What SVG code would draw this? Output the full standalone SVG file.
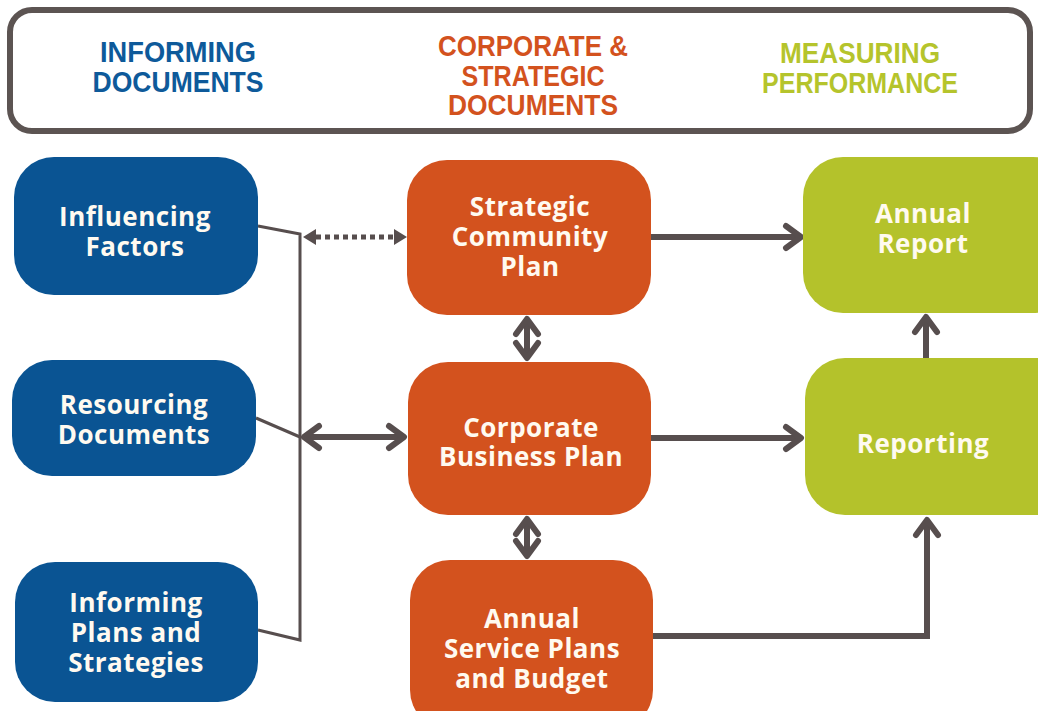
<svg xmlns="http://www.w3.org/2000/svg" width="1038" height="711" viewBox="0 0 1038 711">
  <style>
    .hdr { font-family: "Liberation Sans", Arial, sans-serif; font-weight: bold; font-size: 29px; text-anchor: middle; }
    .lbl { font-family: "Open Sans", "Noto Sans", sans-serif; font-weight: bold; font-size: 26px; letter-spacing: 0.5px; text-anchor: middle; fill: #fffaf0; }
    .blue { fill: #0a5493; }
    .orange { fill: #d3521e; }
    .green { fill: #b4c22b; }
    .wire { fill: none; stroke: #574e4e; stroke-width: 3; stroke-linejoin: miter; }
    .arrow { fill: none; stroke: #574e4e; stroke-width: 6; }
    .dotted { fill: none; stroke: #574e4e; stroke-width: 5; stroke-dasharray: 5 4; }
  </style>
  <defs>
    <marker id="chev" viewBox="-22 -16 28 32" refX="0" refY="0" markerWidth="28" markerHeight="32" markerUnits="userSpaceOnUse" orient="auto-start-reverse">
      <path d="M-15,-11 L0,0 L-15,11" fill="none" stroke="#574e4e" stroke-width="6" stroke-linecap="round" stroke-linejoin="round"/>
    </marker>
    <marker id="tri" viewBox="-2 -10 18 20" refX="0" refY="0" markerWidth="18" markerHeight="20" markerUnits="userSpaceOnUse" orient="auto-start-reverse">
      <path d="M0,-8 L13,0 L0,8 Z" fill="#574e4e"/>
    </marker>
  </defs>

  <rect width="1038" height="711" fill="#ffffff"/>

  <!-- header band -->
  <g id="header">
    <rect x="10" y="10" width="1020" height="121" rx="22" fill="#ffffff" stroke="#5c5452" stroke-width="6"/>
    <text class="hdr" fill="#0e5a9a"><tspan x="178" y="62" textLength="156" lengthAdjust="spacingAndGlyphs">INFORMING</tspan><tspan x="178" y="92" textLength="171" lengthAdjust="spacingAndGlyphs">DOCUMENTS</tspan></text>
    <text class="hdr" fill="#d3521e"><tspan x="533" y="56" textLength="190" lengthAdjust="spacingAndGlyphs">CORPORATE &amp;</tspan><tspan x="533" y="86" textLength="143" lengthAdjust="spacingAndGlyphs">STRATEGIC</tspan><tspan x="533" y="115" textLength="170" lengthAdjust="spacingAndGlyphs">DOCUMENTS</tspan></text>
    <text class="hdr" fill="#b5c42c"><tspan x="860" y="63" textLength="160" lengthAdjust="spacingAndGlyphs">MEASURING</tspan><tspan x="860" y="93" textLength="196" lengthAdjust="spacingAndGlyphs">PERFORMANCE</tspan></text>
  </g>

  <!-- connectors -->
  <g id="connectors">
    <!-- bracket gathering the informing documents -->
    <path class="wire" d="M258,226 L300,234 L300,640 L258,630"/>
    <path class="wire" d="M256,418 L300,437"/>
    <!-- dotted link to the strategic plan -->
    <path class="dotted" d="M316,237 L394,237" marker-start="url(#tri)" marker-end="url(#tri)"/>
    <!-- two-way link to the business plan -->
    <path class="arrow" d="M304,437 L404,437" marker-start="url(#chev)" marker-end="url(#chev)"/>
    <!-- vertical two-way links in the middle column -->
    <path class="arrow" d="M527,319 L527,358" marker-start="url(#chev)" marker-end="url(#chev)"/>
    <path class="arrow" d="M527,519 L527,556" marker-start="url(#chev)" marker-end="url(#chev)"/>
    <!-- outputs to the measuring column -->
    <path class="arrow" d="M651,237 L801,237" marker-end="url(#chev)"/>
    <path class="arrow" d="M651,438 L801,438" marker-end="url(#chev)"/>
    <path class="arrow" d="M653,636 L927,636 L927,520" marker-end="url(#chev)" stroke-linejoin="miter"/>
    <path class="arrow" d="M926,358 L926,317" marker-end="url(#chev)"/>
  </g>

  <!-- informing documents -->
  <g id="influencing-factors">
    <rect class="blue" x="14" y="157" width="244" height="138" rx="40"/>
    <text class="lbl"><tspan x="135" y="226">Influencing</tspan><tspan x="135" y="256">Factors</tspan></text>
  </g>
  <g id="resourcing-documents">
    <rect class="blue" x="12" y="360" width="244" height="116" rx="40"/>
    <text class="lbl"><tspan x="134" y="414">Resourcing</tspan><tspan x="134" y="444">Documents</tspan></text>
  </g>
  <g id="informing-plans">
    <rect class="blue" x="15" y="562" width="243" height="140" rx="40"/>
    <text class="lbl"><tspan x="136" y="612">Informing</tspan><tspan x="136" y="642">Plans and</tspan><tspan x="136" y="672">Strategies</tspan></text>
  </g>

  <!-- corporate and strategic documents -->
  <g id="strategic-community-plan">
    <rect class="orange" x="407" y="160" width="244" height="155" rx="40"/>
    <text class="lbl"><tspan x="530" y="216">Strategic</tspan><tspan x="530" y="246">Community</tspan><tspan x="530" y="276">Plan</tspan></text>
  </g>
  <g id="corporate-business-plan">
    <rect class="orange" x="408" y="362" width="243" height="153" rx="40"/>
    <text class="lbl"><tspan x="531" y="437">Corporate</tspan><tspan x="531" y="466">Business Plan</tspan></text>
  </g>
  <g id="annual-service-plans">
    <rect class="orange" x="410" y="560" width="243" height="170" rx="40"/>
    <text class="lbl"><tspan x="532" y="628">Annual</tspan><tspan x="532" y="658">Service Plans</tspan><tspan x="532" y="688">and Budget</tspan></text>
  </g>

  <!-- measuring performance -->
  <g id="annual-report">
    <rect class="green" x="803" y="157" width="270" height="156" rx="40"/>
    <text class="lbl"><tspan x="923" y="223">Annual</tspan><tspan x="923" y="253">Report</tspan></text>
  </g>
  <g id="reporting">
    <rect class="green" x="805" y="358" width="270" height="157" rx="40"/>
    <text class="lbl"><tspan x="923" y="453">Reporting</tspan></text>
  </g>
</svg>
